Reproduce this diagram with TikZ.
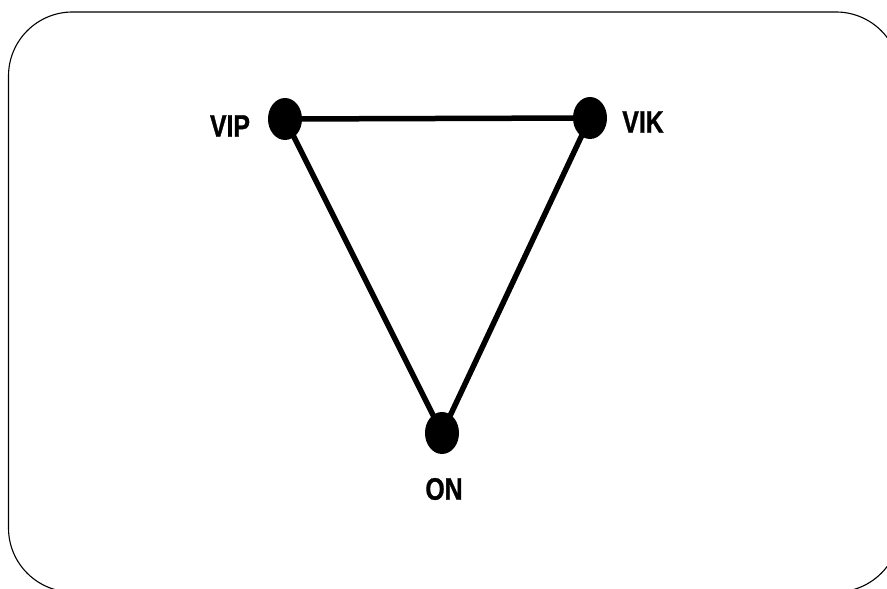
\documentclass[tikz,border=0pt]{standalone}
\usepackage{fontspec}
\newfontfamily\lab{Liberation Sans}[FakeStretch=0.8,FakeBold=1]
\usetikzlibrary{shapes.geometric}
\begin{document}
\begin{tikzpicture}[x=1pt,y=1pt,
  dot/.style={ellipse,fill=black,draw=none,minimum width=34pt,minimum height=42pt,inner sep=0pt},
  lbl/.style={inner sep=0pt},
  edge/.style={line width=5.5pt}]
\useasboundingbox (0,0) rectangle (887,589);
\clip (0,0) rectangle (887,589);
\fill[white] (0,0) rectangle (887,589);
\draw[line width=1.1pt,rounded corners=64pt] (8.5,577) rectangle (900,-3);
\coordinate (vipc) at (285,470);
\coordinate (vikc) at (590,471);
\coordinate (onc) at (442,156);
\draw[edge] (vipc) -- (vikc);
\draw[edge] (vipc) -- (onc);
\draw[edge] (vikc) -- (onc);
\node[dot] (vip) at (vipc) {};
\node[dot] (vik) at (vikc) {};
\node[dot] (on) at (onc) {};
\newcommand\labtext[1]{\lab\bfseries\fontsize{31}{31}\selectfont #1}
\node[lbl] (viplbl) at (230,463) {\labtext{VIP}};
\node[lbl] (viklbl) at (643,467) {\labtext{VIK}};
\node[lbl] (onlbl) at (444,100) {\labtext{ON}};
\end{tikzpicture}
\end{document}
